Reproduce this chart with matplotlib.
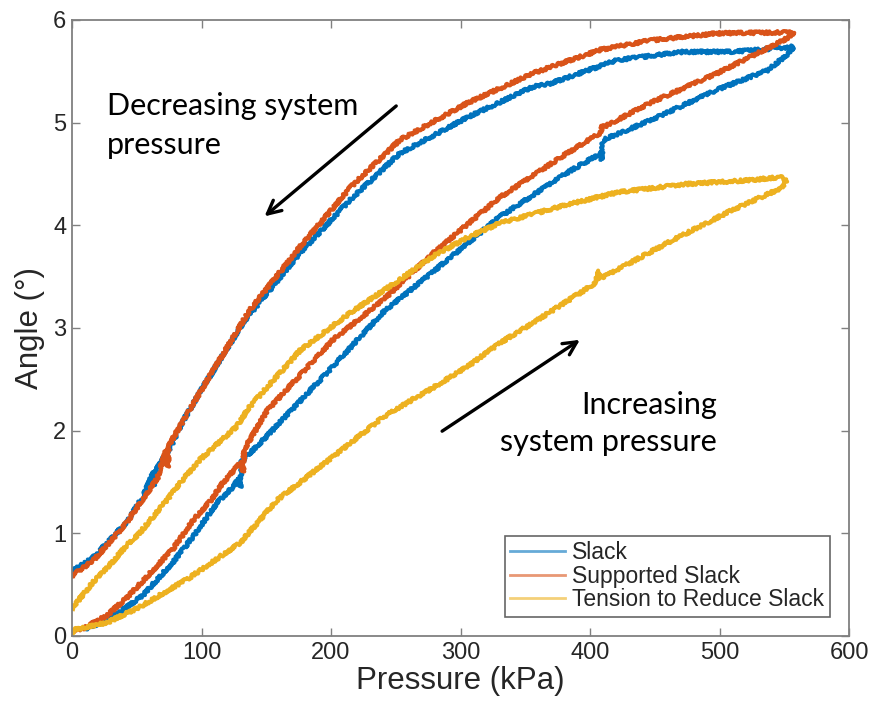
import matplotlib
matplotlib.use("Agg")
import matplotlib.pyplot as plt

plt.rcParams["font.family"] = ["Liberation Sans", "DejaVu Sans"]

# Hysteresis loops: angle vs. pressure, loading branch then unloading branch
slack_up_p = [10, 25, 39, 55, 78, 93, 112, 125, 129, 130, 131, 153, 201, 240, 279, 330, 382, 408, 409, 410, 446, 498, 537, 554, 557]
slack_up_a = [0.07, 0.14, 0.25, 0.40, 0.72, 0.96, 1.30, 1.46, 1.54, 1.45, 1.70, 1.98, 2.62, 3.15, 3.55, 4.08, 4.51, 4.70, 4.64, 4.83, 5.02, 5.32, 5.51, 5.68, 5.74]
slack_down_p = [549, 510, 472, 421, 369, 356, 305, 253, 215, 176, 132, 101, 86, 76, 65, 64, 63, 55, 42, 29, 16, 0]
slack_down_a = [5.73, 5.69, 5.69, 5.61, 5.38, 5.35, 5.05, 4.70, 4.25, 3.73, 3.05, 2.42, 2.10, 1.84, 1.62, 1.47, 1.60, 1.36, 1.11, 0.93, 0.76, 0.63]

supp_up_p = [0, 8, 27, 42, 52, 78, 93, 107, 117, 131, 132, 133, 151, 201, 240, 279, 330, 382, 408, 410, 411, 446, 498, 549, 558]
supp_up_a = [0.05, 0.07, 0.20, 0.37, 0.50, 0.85, 1.12, 1.32, 1.50, 1.70, 1.60, 1.82, 2.20, 2.88, 3.27, 3.73, 4.27, 4.70, 4.90, 4.98, 4.96, 5.19, 5.48, 5.80, 5.87]
supp_down_p = [554, 498, 446, 408, 369, 356, 305, 253, 215, 176, 137, 101, 86, 75, 74, 73, 66, 55, 42, 29, 16, 0]
supp_down_a = [5.88, 5.87, 5.80, 5.71, 5.54, 5.48, 5.19, 4.83, 4.37, 3.79, 3.17, 2.42, 2.10, 1.86, 1.65, 1.82, 1.54, 1.34, 1.10, 0.91, 0.73, 0.59]

tens_up_p = [0, 1, 27, 52, 91, 130, 158, 201, 240, 253, 279, 305, 330, 356, 402, 405, 406, 408, 460, 510, 549, 552]
tens_up_a = [0.02, 0.06, 0.13, 0.28, 0.57, 0.91, 1.32, 1.74, 2.13, 2.23, 2.42, 2.62, 2.85, 3.05, 3.42, 3.45, 3.56, 3.48, 3.83, 4.15, 4.37, 4.44]
tens_down_p = [547, 524, 472, 421, 408, 382, 356, 330, 305, 279, 253, 215, 176, 137, 127, 99, 86, 73, 52, 42, 27, 16, 0]
tens_down_a = [4.47, 4.44, 4.40, 4.32, 4.28, 4.20, 4.11, 4.02, 3.88, 3.70, 3.47, 3.15, 2.78, 2.23, 2.04, 1.72, 1.53, 1.32, 1.00, 0.88, 0.66, 0.52, 0.27]

series = [
    ("Slack", slack_up_p + slack_down_p, slack_up_a + slack_down_a, "#0072BD"),
    ("Supported Slack", supp_up_p + supp_down_p, supp_up_a + supp_down_a, "#D95319"),
    ("Tension to Reduce Slack", tens_up_p + tens_down_p, tens_up_a + tens_down_a, "#EDB120"),
]

fig = plt.figure(figsize=(8.75, 7.04), dpi=100)
ax = fig.add_axes([0.0823, 0.0966, 0.888, 0.875])

for label, p, a, c in series:
    line, = ax.plot(p, a, color=c, lw=2.9, label=label, solid_joinstyle="round")
    line.set_sketch_params(scale=1.5, length=3, randomness=3)

ax.set_xlim(0, 600)
ax.set_ylim(0, 6)
ax.set_xticks([0, 100, 200, 300, 400, 500, 600])
ax.set_yticks([0, 1, 2, 3, 4, 5, 6])
ax.tick_params(direction="in", length=6, width=1, top=True, right=True,
               labelsize=17, colors="#808080", labelcolor="#262626", pad=4)
for s in ax.spines.values():
    s.set_color("#808080")
    s.set_linewidth(1.3)
ax.set_xlabel("Pressure (kPa)", fontsize=22.5, color="#262626", labelpad=2)
ax.set_ylabel("Angle (°)", fontsize=22.5, color="#262626", labelpad=6)

leg = ax.legend(loc="lower right", bbox_to_anchor=(0.9755, 0.031), borderaxespad=0,
                fontsize=16.5, fancybox=False, frameon=True, handlelength=2.4,
                handletextpad=0.3, labelspacing=0.02, borderpad=0.25)
leg.get_frame().set_edgecolor("#404040")
leg.get_frame().set_linewidth(1.2)
for h in leg.get_lines():
    h.set_linewidth(2)
    h.set_alpha(0.6)
    h.set_sketch_params(None)
for t in leg.get_texts():
    t.set_color("#262626")

ann_font = ["Lato", "DejaVu Sans"]
ax.text(27, 5.30, "Decreasing system\npressure", fontsize=22, family=ann_font,
        ha="left", va="top", linespacing=1.5)
ax.text(498, 2.39, "Increasing\nsystem pressure", fontsize=22, family=ann_font,
        ha="right", va="top", linespacing=1.42, multialignment="right")
ax.annotate("", xy=(147, 4.07), xytext=(252, 5.18),
            arrowprops=dict(arrowstyle="->", color="black", lw=2.4, mutation_scale=24))
ax.annotate("", xy=(394, 2.9), xytext=(284, 1.98),
            arrowprops=dict(arrowstyle="->", color="black", lw=2.4, mutation_scale=24))

fig.savefig("out.png", dpi=100)
